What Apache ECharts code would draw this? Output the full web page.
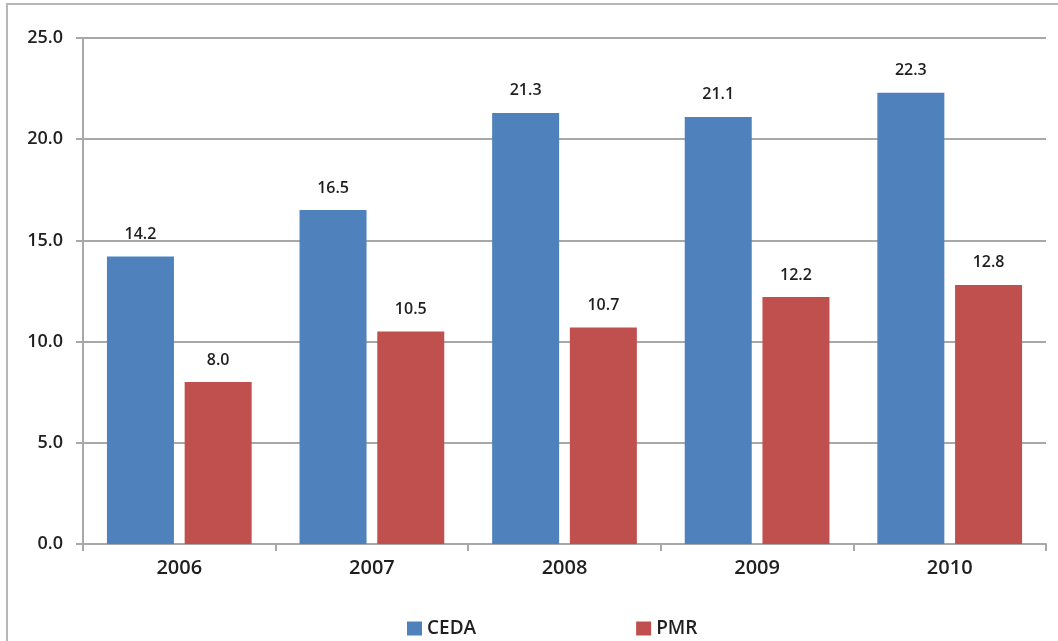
<!DOCTYPE html>
<html><head><meta charset="utf-8">
<script src="https://cdn.jsdelivr.net/npm/echarts@6/dist/echarts.min.js"></script>
<style>html,body{margin:0;padding:0;background:#fff}#c{width:1058px;height:641px}</style>
</head><body><div id="c"></div>
<script>
const categories = ['2006','2007','2008','2009','2010'];
const cedaValues = [14.2, 16.5, 21.3, 21.1, 22.3];
const pmrValues = [8.0, 10.5, 10.7, 12.2, 12.8];
const seriesNames = ['CEDA','PMR'];

const chart = echarts.init(document.getElementById('c'));
const font = '"Open Sans", "Liberation Sans", sans-serif';
const txt = '#1f1f1f';
const lbl = {show:true, position:'top', distance:14, color:txt, fontSize:16, fontWeight:600, fontFamily:font,
  formatter: p => p.value.toFixed(1)};
chart.setOption({
  animation:false,
  graphic:[{type:'rect', shape:{x:7,y:4,width:1200,height:800}, style:{fill:'none', stroke:'#b8b8b8', lineWidth:2}}],
  grid:{left:83, right:12, top:38, bottom:97, containLabel:false},
  legend:{top:614, left:402, itemWidth:15, itemHeight:14, itemGap:160, icon:'rect',
    textStyle:{fontSize:19, color:txt, fontWeight:600, fontFamily:font}, data:seriesNames},
  xAxis:{type:'category', data:categories,
    axisLine:{lineStyle:{color:'#a8a8a8', width:2}},
    axisTick:{show:true, length:7, lineStyle:{color:'#a8a8a8', width:2}},
    axisLabel:{fontSize:20, color:txt, margin:14, fontWeight:600, fontFamily:font}},
  yAxis:{type:'value', min:0, max:25, interval:5,
    axisLine:{show:true, lineStyle:{color:'#a8a8a8', width:2}},
    axisTick:{show:true, length:7, lineStyle:{color:'#a8a8a8', width:2}},
    splitLine:{lineStyle:{color:'#a8a8a8', width:2}},
    axisLabel:{fontSize:18, color:txt, margin:20, fontWeight:600, fontFamily:font, formatter:v=>v.toFixed(1)}},
  series:[
    {name:seriesNames[0], type:'bar', data:cedaValues, barWidth:67, barGap:'16%', itemStyle:{color:'#4F81BD'}, label:lbl},
    {name:seriesNames[1], type:'bar', data:pmrValues, barWidth:67, itemStyle:{color:'#C0504D'}, label:lbl}
  ]
});
</script></body></html>
